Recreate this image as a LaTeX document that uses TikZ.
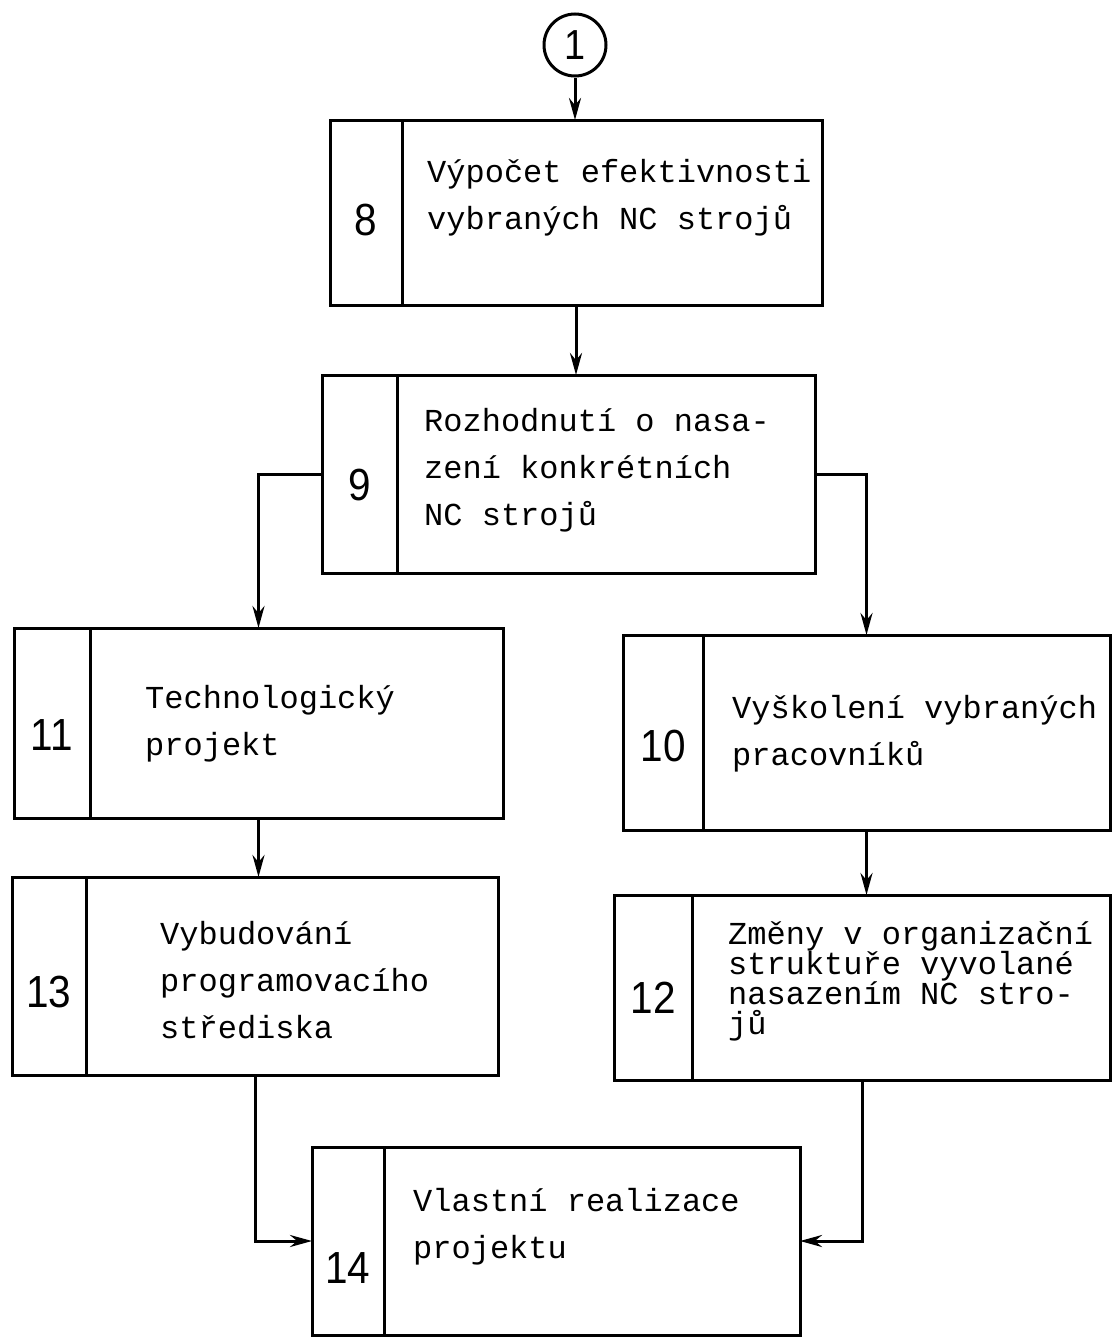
\documentclass[tikz,border=0pt]{standalone}
\usepackage{fontspec}
\setmonofont{Liberation Mono}
\newfontfamily\numfont[FakeStretch=0.9]{Liberation Sans}
\usetikzlibrary{arrows.meta,calc}
\tikzset{
  frame/.style={draw,line width=3pt,inner sep=0pt,outer sep=0pt},
  num/.style={font=\numfont\fontsize{45}{45}\selectfont,inner sep=0pt},
  txt/.style={font=\ttfamily\fontsize{32}{47}\selectfont,align=left,anchor=base west,inner sep=0pt},
  arr/.style={line width=3pt,-{Stealth[length=22pt,width=12pt]}}
}
\newcommand{\block}[8]{%
  \node[frame,minimum width=#4pt,minimum height=#5pt,anchor=north west] (#1) at (#2,#3) {};
  \draw[line width=3pt] ([xshift=#6pt]#1.north west) -- ([xshift=#6pt]#1.south west);
  \node[num] (#1n) at ([xshift=#6pt/2,yshift=-#8pt]#1.west) {#7};
}
\begin{document}
\begin{tikzpicture}[x=1pt,y=-1pt]
\useasboundingbox (0,0) rectangle (1113,1344);
\node[draw,circle,line width=3pt,minimum size=62pt,inner sep=0pt,font=\numfont\fontsize{42}{42}\selectfont] (c1) at (575,45) {1};
\block{s8}{330}{120}{492}{185}{72}{8}{8}
\block{s9}{322}{375}{493}{198}{75}{9}{11}
\block{s11}{14}{628}{489}{190}{76}{11}{12}
\block{s10}{623}{635}{487}{195}{80}{10}{13}
\block{s13}{12}{877}{486}{198}{74}{13}{16}
\block{s12}{614}{895}{496}{185}{78}{12}{10}
\block{s14}{312}{1147}{488}{188}{72}{14}{27}
% anchor base = last line
\node[txt] (t8) at (427,229) {Výpočet efektivnosti\\vybraných NC strojů};
\node[txt] (t9) at (424,525) {Rozhodnutí o nasa-\\zení konkrétních\\NC strojů};
\node[txt] (t11) at (145,755) {Technologický\\projekt};
\node[txt] (t10) at (732,765) {Vyškolení vybraných\\pracovníků};
\node[txt] (t13) at (160,1038) {Vybudování\\programovacího\\střediska};
\node[txt,font=\ttfamily\fontsize{32}{30}\selectfont] (t12) at (728,1034) {Změny v organizační\\struktuře vyvolané\\nasazením NC stro-\\jů};
\node[txt] (t14) at (413,1258) {Vlastní realizace\\projektu};
\draw[arr] (c1.south) -- (c1.south |- s8.north);
\draw[arr] (s8.south) -- (s8.south |- s9.north);
\draw[arr] (s9.west) -| (s11.north);
\draw[arr] (s9.east) -| (s10.north);
\draw[arr] (s11.south) -- (s11.south |- s13.north);
\draw[arr] (s10.south) -- (s10.south |- s12.north);
\draw[arr] (s13.south) |- (s14.west);
\draw[arr] (s12.south) |- (s14.east);
\end{tikzpicture}
\end{document}
